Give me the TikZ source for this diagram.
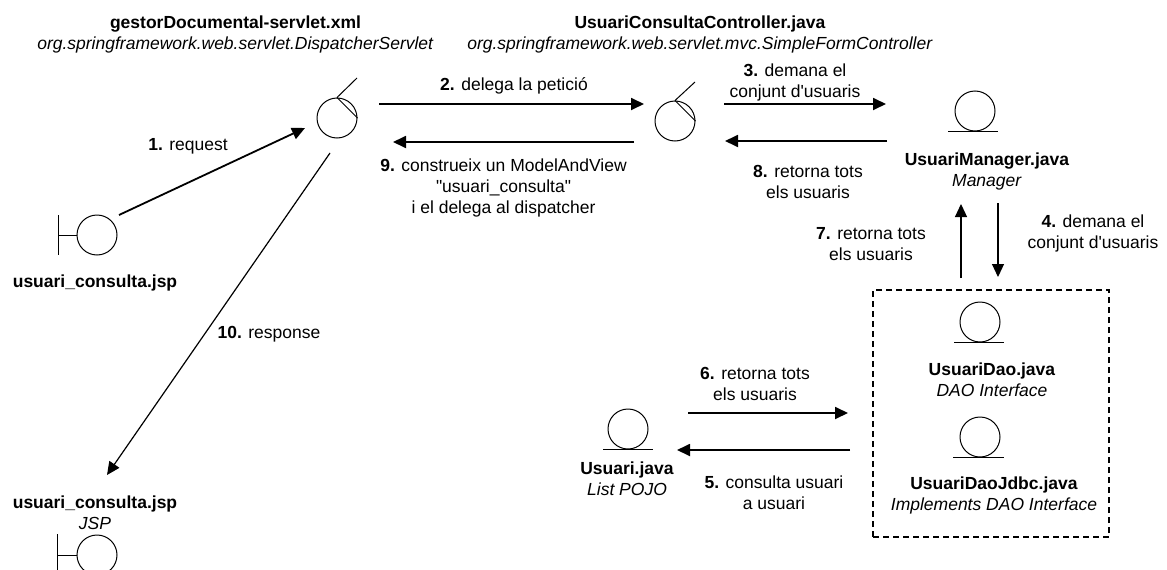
\documentclass[tikz,border=0pt]{standalone}
\usepackage{fontspec}
\usepackage{tikz}
\usetikzlibrary{arrows.meta}
\setmainfont{Liberation Sans}[Ligatures=TeXOff]
\tikzstyle{label}=[inner sep=0pt, align=center, font=\fontsize{17.5}{21}\selectfont]
\tikzstyle{object}=[circle, draw, line width=1pt, minimum size=40pt, inner sep=0pt]
\tikzstyle{message}=[-{Triangle[length=13pt, width=12pt]}, line width=1.8pt]
\tikzstyle{thinmessage}=[-{Triangle[length=13pt, width=12pt]}, line width=1.2pt]
\tikzstyle{group}=[draw, dash pattern=on 6pt off 4pt, line width=1.2pt, inner sep=0pt, minimum width=236pt, minimum height=247pt]

\begin{document}
\begin{tikzpicture}[x=1pt, y=-1pt]
    \clip (0, 0) rectangle (1167, 570);
    \node[label] (dispatcherName) at (235.5, 34) {\textbf{gestorDocumental-servlet.xml}\\\textit{org.springframework.web.servlet.DispatcherServlet}};
    \node[label] (controllerName) at (700, 34) {\textbf{UsuariConsultaController.java}\\\textit{org.springframework.web.servlet.mvc.SimpleFormController}};
    \node[label] (viewName) at (95, 283) {\textbf{usuari\_consulta.jsp}};
    \node[label] (jspName) at (95, 513) {\textbf{usuari\_consulta.jsp}\\\textit{JSP}};
    \node[label] (managerName) at (987, 171) {\textbf{UsuariManager.java}\\\textit{Manager}};
    \node[label] (daoName) at (992, 380) {\textbf{UsuariDao.java}\\\textit{DAO Interface}};
    \node[label] (jdbcName) at (994, 495) {\textbf{UsuariDaoJdbc.java}\\\textit{Implements DAO Interface}};
    \node[label] (pojoName) at (627, 479) {\textbf{Usuari.java}\\\textit{List POJO}};

    \node[object] (view) at (97, 235) {};
    \node[object] (jsp) at (97, 555) {};
    \node[object] (dispatcher) at (337, 118) {};
    \node[object] (controller) at (675, 121) {};
    \node[object] (manager) at (975, 111) {};
    \node[object] (dao) at (980, 322) {};
    \node[object] (jdbc) at (980, 437) {};
    \node[object] (pojo) at (628, 429) {};
    \node[group] (daoGroup) at (991, 413.5) {};

    % boundary bars
    \draw[line width=1pt] (view.west)--(58, 235) (58, 215)--(58, 255);
    \draw[line width=1pt] (jsp.west)--(57, 555) (57, 534)--(57, 575);
    % control tails
    \draw[line width=1pt] (357, 78)--(dispatcher.north) (dispatcher.north)--(dispatcher.east);
    \draw[line width=1pt] (695, 82)--(controller.north) (controller.north)--(controller.east);
    % entity bases
    \draw[line width=1pt]
        (948, 131)--(998, 131) (954, 342)--(1004, 342)
        (953, 457)--(1004, 457) (603, 449)--(653, 449)
    ;

    \coordinate (m1a) at (119, 215);
    \coordinate (m1b) at (305, 128);
    \coordinate (m2a) at (379, 104);
    \coordinate (m2b) at (644, 104);
    \coordinate (m3a) at (724, 104);
    \coordinate (m3b) at (886, 104);
    \coordinate (m4a) at (998, 203);
    \coordinate (m4b) at (998, 277);
    \coordinate (m5a) at (850, 450);
    \coordinate (m5b) at (677, 450);
    \coordinate (m6a) at (688, 413);
    \coordinate (m6b) at (848, 413);
    \coordinate (m7a) at (961, 278);
    \coordinate (m7b) at (961, 204);
    \coordinate (m8a) at (887, 141);
    \coordinate (m8b) at (725, 141);
    \coordinate (m9a) at (634, 142);
    \coordinate (m9b) at (393, 142);
    \coordinate (m10a) at (330, 153);
    \coordinate (m10b) at (107, 475);
    \draw[message] (m1a)--(m1b);
    \draw[message] (m2a)--(m2b);
    \draw[message] (m3a)--(m3b);
    \draw[thinmessage] (m4a)--(m4b);
    \draw[message] (m5a)--(m5b);
    \draw[message] (m6a)--(m6b);
    \draw[thinmessage] (m7a)--(m7b);
    \draw[message] (m8a)--(m8b);
    \draw[message] (m9a)--(m9b);
    \draw[thinmessage] (m10a)--(m10b);

    \node[label] (t1) at (188, 146) {\textbf{1.} request};
    \node[label] (t2) at (514, 86) {\textbf{2.} delega la petició};
    \node[label] (t3) at (795, 82.5) {\textbf{3.} demana el\\conjunt d'usuaris};
    \node[label] (t4) at (1093, 233) {\textbf{4.} demana el\\conjunt d'usuaris};
    \node[label] (t5) at (774, 492.5) {\textbf{5.} consulta usuari\\a usuari};
    \node[label] (t6) at (755, 384) {\textbf{6.} retorna tots\\els usuaris};
    \node[label] (t7) at (871, 244) {\textbf{7.} retorna tots\\els usuaris};
    \node[label] (t8) at (808, 181.5) {\textbf{8.} retorna tots\\els usuaris};
    \node[label] (t9) at (503.5, 188) {\textbf{9.} construeix un ModelAndView\\"usuari\_consulta"\\i el delega al dispatcher};
    \node[label] (t10) at (269, 334) {\textbf{10.} response};
\end{tikzpicture}
\end{document}
